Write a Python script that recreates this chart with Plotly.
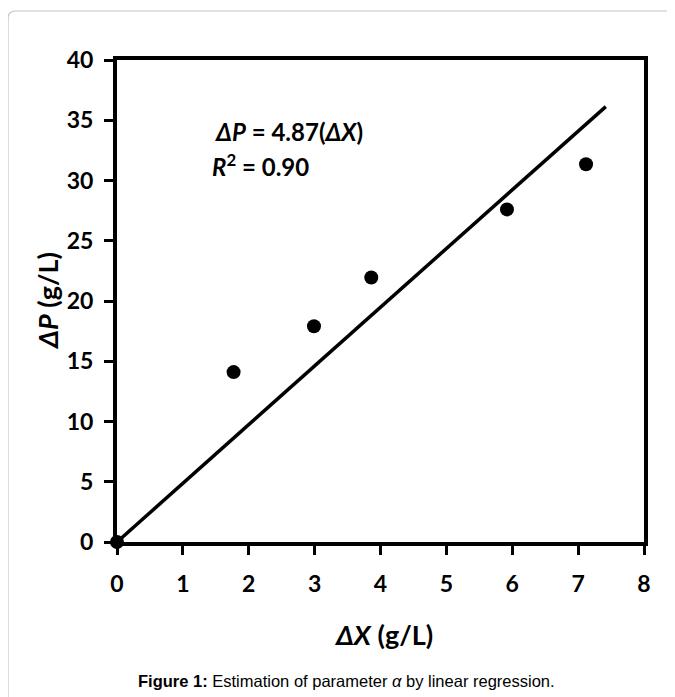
import plotly.graph_objects as go

dx = [0, 1.77, 2.99, 3.86, 5.92, 7.12]
dp = [0, 14.1, 17.9, 21.95, 27.6, 31.35]
slope = 4.87
fit_x = [0, 7.42]
fit_y = [slope * v for v in fit_x]

x_ticks = [0, 1, 2, 3, 4, 5, 6, 7, 8]
y_ticks = [0, 5, 10, 15, 20, 25, 30, 35, 40]

FONT = "Lato, Carlito, Calibri, sans-serif"

fig = go.Figure()
fig.add_trace(go.Scatter(x=fit_x, y=fit_y, mode="lines",
                         line=dict(color="black", width=3.5), showlegend=False,
                         cliponaxis=False))
fig.add_trace(go.Scatter(x=dx, y=dp, mode="markers",
                         marker=dict(color="black", size=14, line=dict(width=0)),
                         showlegend=False, cliponaxis=False))

axis_common = dict(showgrid=False, zeroline=False, showline=True, linecolor="black",
                   linewidth=4, mirror=True, ticks="outside", ticklen=9, tickwidth=3,
                   tickcolor="black", tickfont=dict(size=23, family=FONT, weight="bold"))

fig.update_layout(
    width=675, height=697,
    margin=dict(l=109, r=39, t=52, b=163),
    paper_bgcolor="white", plot_bgcolor="white",
    font=dict(family=FONT, color="black"),
    xaxis=dict(range=[0, 8], tickvals=x_ticks, ticktext=[str(v) for v in x_ticks],
               ticklabelstandoff=9, **axis_common),
    yaxis=dict(range=[0, 40], tickvals=y_ticks, ticktext=[str(v) for v in y_ticks],
               ticklabelstandoff=6, **axis_common),
    annotations=[
        dict(x=0.505, y=-0.191, xref="paper", yref="paper", xanchor="center", yanchor="middle",
             showarrow=False, text="<b><i>ΔX</i> (g/L)</b>",
             font=dict(size=27, family=FONT, color="black")),
        dict(x=-0.133, y=0.5, xref="paper", yref="paper", xanchor="center", yanchor="middle",
             showarrow=False, textangle=-90, text="<b><i>ΔP</i> (g/L)</b>",
             font=dict(size=27, family=FONT, color="black")),
        dict(x=0.182, y=0.851, xref="paper", yref="paper", xanchor="left", yanchor="middle",
             showarrow=False, text="<b><i>ΔP</i> = 4.87(<i>ΔX</i>)</b>",
             font=dict(size=24, family=FONT, color="black")),
        dict(x=0.176, y=0.782, xref="paper", yref="paper", xanchor="left", yanchor="middle",
             showarrow=False, text="<b><i>R</i><sup>2</sup> = 0.90</b>",
             font=dict(size=24, family=FONT, color="black")),
        dict(x=0.436, y=-0.288, xref="paper", yref="paper", xanchor="center", yanchor="middle",
             showarrow=False,
             text="<b>Figure 1:</b> Estimation of parameter <i>α</i> by linear regression.",
             font=dict(size=16.5, family="Liberation Sans, Arial, sans-serif", color="black")),
    ],
    shapes=[
        dict(type="path", xref="paper", yref="paper", xsizemode="pixel", ysizemode="pixel",
             xanchor=0, yanchor=1,
             path="M -109,-700 L -109,41 Q -109,49 -101,49 L 600,49",
             line=dict(color="#c4c4c4", width=1.2)),
    ],
)

fig.write_html("out.html")
